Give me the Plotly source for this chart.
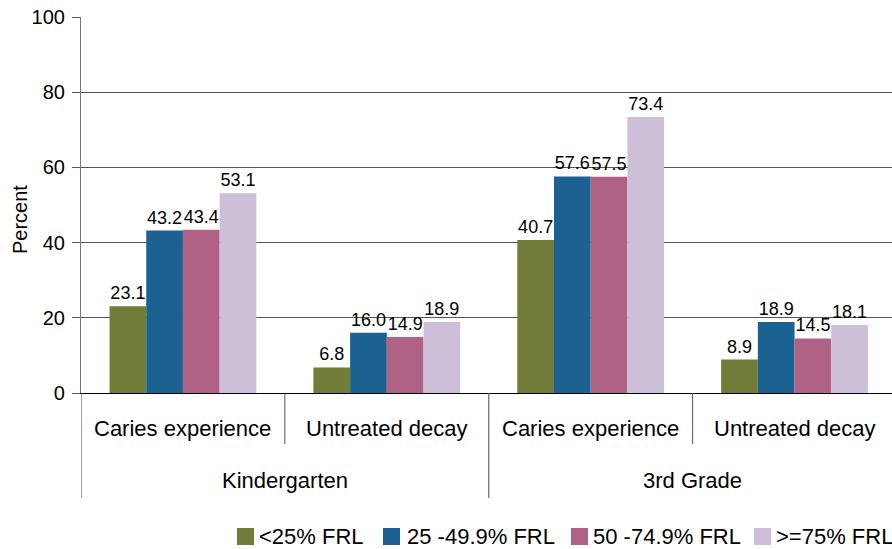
import plotly.graph_objects as go

# ---- data ----
groups = ["Kindergarten", "3rd Grade"]
measures = ["Caries experience", "Untreated decay"]
series_names = ["<25% FRL", "25 -49.9% FRL", "50 -74.9% FRL", ">=75% FRL"]
# values per series, ordered: K-caries, K-untreated, 3rd-caries, 3rd-untreated
v_lt25 = [23.1, 6.8, 40.7, 8.9]
v_25_49 = [43.2, 16.0, 57.6, 18.9]
v_50_74 = [43.4, 14.9, 57.5, 14.5]
v_ge75 = [53.1, 18.9, 73.4, 18.1]
y_ticks = [0, 20, 40, 60, 80, 100]

colors = ["#727B37", "#1B6293", "#AF6285", "#CDBFD8"]
series_values = [v_lt25, v_25_49, v_50_74, v_ge75]

FONT = "Liberation Sans, Arial, Helvetica, sans-serif"
xpos = list(range(len(groups) * len(measures)))

fig = go.Figure()
for name, vals, col in zip(series_names, series_values, colors):
    fig.add_trace(go.Bar(
        x=xpos, y=vals, name=name,
        marker=dict(color=col, line=dict(width=0)),
        text=[f"{v:.1f}" for v in vals],
        textposition="outside",
        textfont=dict(size=18, color="black", family=FONT),
        cliponaxis=False,
        showlegend=False,
    ))

plot_left, plot_width = 81, 811
plot_top, plot_bottom = 17, 393
ph = plot_bottom - plot_top
def py(pix):
    return (plot_bottom - pix) / ph
def px(pix):
    return (pix - plot_left) / plot_width

shapes = []
for xb in [0.5, 2.5]:
    shapes.append(dict(type="line", xref="x", yref="paper", x0=xb, x1=xb,
                       y0=0, y1=py(444), line=dict(color="#555555", width=1)))
for xb in [-0.5, 1.5]:
    shapes.append(dict(type="line", xref="x", yref="paper", x0=xb, x1=xb,
                       y0=py(393), y1=py(498), line=dict(color="#666666", width=1.2)))

annotations = []
for gi, g in enumerate(groups):
    for mi, m in enumerate(measures):
        annotations.append(dict(x=gi * 2 + mi, y=py(428), xref="x", yref="paper",
                                text=m, showarrow=False, yanchor="middle",
                                font=dict(size=22, color="black", family=FONT)))
    annotations.append(dict(x=gi * 2 + 0.5, y=py(480), xref="x", yref="paper",
                            text=g, showarrow=False, yanchor="middle",
                            font=dict(size=22, color="black", family=FONT)))
annotations.append(dict(x=px(20), y=py(220), xref="paper", yref="paper",
                        text="Percent", showarrow=False, textangle=-90,
                        xanchor="center", yanchor="middle",
                        font=dict(size=20, color="black", family=FONT)))

# legend (swatches + labels) below the chart
legend_sq_x = [237, 383, 571, 754]
legend_tx_x = [258, 406, 592, 775]
sq = 17
ly = 536.5
for name, col, sx, tx in zip(series_names, colors, legend_sq_x, legend_tx_x):
    shapes.append(dict(type="rect", xref="paper", yref="paper",
                       x0=px(sx), x1=px(sx + sq), y0=py(ly - sq / 2), y1=py(ly + sq / 2),
                       fillcolor=col, line=dict(width=0)))
    annotations.append(dict(x=px(tx), y=py(ly), xref="paper", yref="paper",
                            text=name, showarrow=False, xanchor="left", yanchor="middle",
                            xshift=-1,
                            font=dict(size=22, color="black", family=FONT)))

fig.update_layout(
    width=892, height=549,
    margin=dict(l=81, r=0, t=17, b=156, autoexpand=False),
    paper_bgcolor="white", plot_bgcolor="white",
    barmode="group", bargap=0.28, bargroupgap=0,
    font=dict(family=FONT, color="black"),
    shapes=shapes, annotations=annotations,
    showlegend=False,
    xaxis=dict(range=[-0.5, 3.478], showticklabels=False, ticks="",
               showgrid=False, zeroline=False, showline=True,
               linecolor="black", linewidth=1, automargin=False),
    yaxis=dict(range=[0, 100], tickvals=y_ticks, ticks="outside", ticklen=8,
               tickcolor="#555555", showgrid=True, gridcolor="#555555",
               gridwidth=1, zeroline=False, showline=True, linecolor="#777777",
               linewidth=1.2, automargin=False, ticklabelstandoff=3,
               tickfont=dict(size=20, family=FONT, color="black")),
)

fig.write_html("out.html", config={"displayModeBar": False},
               post_script="document.body.style.margin='0';document.body.style.overflow='hidden';")
